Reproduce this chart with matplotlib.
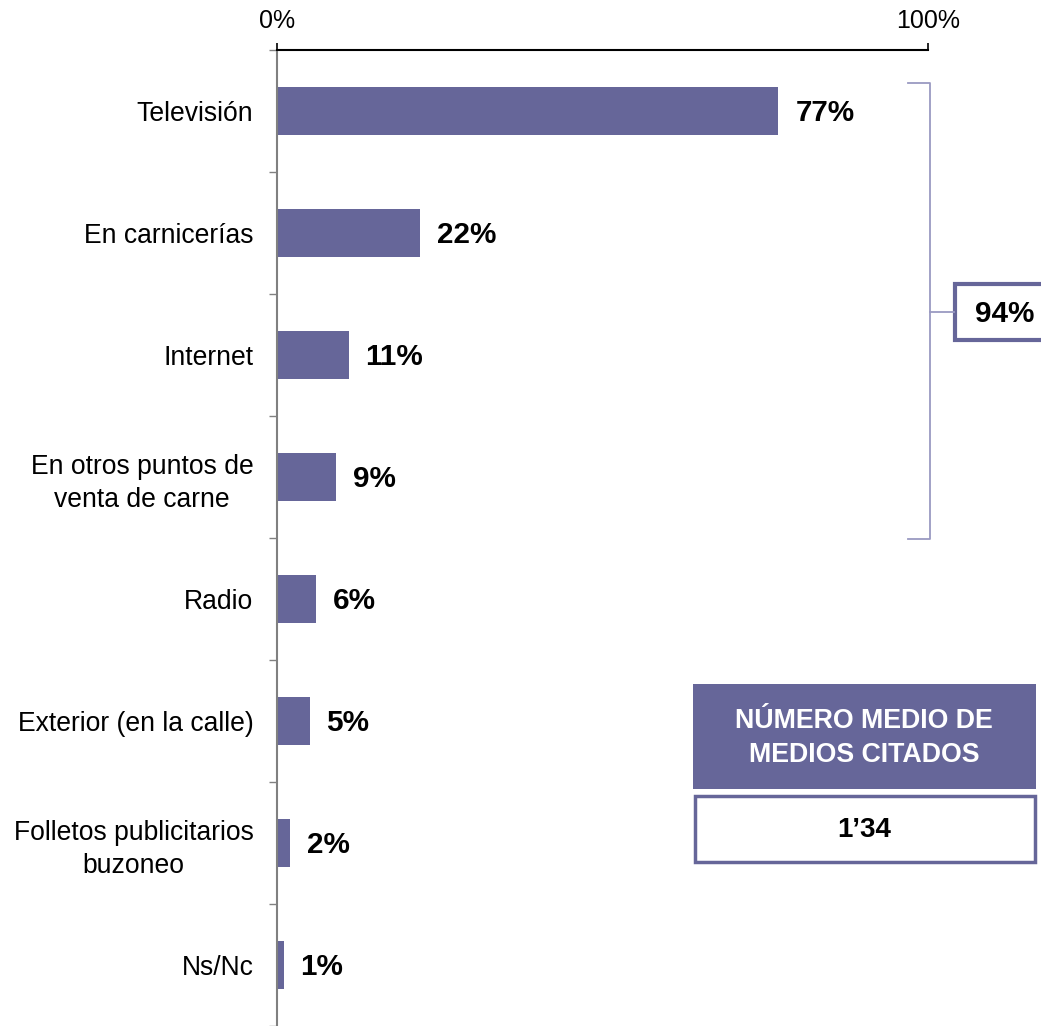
import matplotlib.pyplot as plt
from matplotlib.patches import Rectangle

plt.rcParams['font.family'] = ['Liberation Sans', 'DejaVu Sans']

categories = ['Televisión', 'En carnicerías', 'Internet', 'En otros puntos de\nventa de carne',
              'Radio', 'Exterior (en la calle)', 'Folletos publicitarios\nbuzoneo', 'Ns/Nc']
values = [77, 22, 11, 9, 6, 5, 2, 1]
bracket_total = '94%'
avg_title = 'NÚMERO MEDIO DE\nMEDIOS CITADOS'
avg_value = '1’34'

W, H = 1041, 1026
purple = '#666699'
bracket_col = '#9a9ac2'

fig = plt.figure(figsize=(W / 100, H / 100), dpi=100)
ax = fig.add_axes([277 / W, 0, 651 / W, 976 / H])


def fx(x):
    return x / W


def fy(y):
    return 1 - y / H


ypos = list(range(len(categories)))
bars = ax.barh(ypos, values, height=0.4, color=purple)
ax.set_xlim(0, 100)
ax.set_ylim(len(categories) - 0.5, -0.5)

# value labels
for bar, v in zip(bars, values):
    ax.annotate(f'{v}%', (bar.get_width(), bar.get_y() + bar.get_height() / 2),
                xytext=(17, -2), textcoords='offset pixels', ha='left', va='center',
                fontsize=21.3, fontweight='bold', color='black')

# axes styling
ax.xaxis.tick_top()
ax.set_xticks([0, 100])
ax.set_xticklabels(['0%', '100%'], fontsize=18)
ax.tick_params(axis='x', length=5, width=1.2, pad=7, color='black')
ax.set_yticks(ypos)
ax.set_yticklabels(categories, fontsize=19.1)
ax.tick_params(axis='y', which='major', length=0, pad=17)
for lbl in ax.get_yticklabels():
    lbl.set_multialignment('center')
    lbl.set_linespacing(1.35)
ax.set_yticks([i - 0.5 for i in range(len(categories) + 1)], minor=True)
ax.tick_params(axis='y', which='minor', length=6, width=1, color='#808080')

for s in ['right', 'bottom']:
    ax.spines[s].set_visible(False)
ax.spines['left'].set_color('#808080')
ax.spines['left'].set_linewidth(1.5)
ax.spines['top'].set_color('black')
ax.spines['top'].set_linewidth(1.5)

# bracket grouping the first four media
bx = fx(930)
fig.add_artist(plt.Line2D([fx(908), bx, bx, fx(908)], [fy(83), fy(83), fy(539), fy(539)],
                          color=bracket_col, lw=1.3))
fig.add_artist(plt.Line2D([bx, fx(954)], [fy(312), fy(312)], color=bracket_col, lw=1.3))
fig.add_artist(Rectangle((fx(955), fy(340)), fx(100), 56 / H, facecolor='white',
                         edgecolor=purple, lw=3, transform=fig.transFigure))
fig.text(fx(1005), fy(314), bracket_total, ha='center', va='center',
         fontsize=21.3, fontweight='bold')

# average box
fig.add_artist(Rectangle((fx(693), fy(789)), (1036 - 693) / W, (789 - 684) / H,
                         facecolor=purple, edgecolor='none', transform=fig.transFigure))
fig.text(fx(864), fy(738), avg_title, ha='center', va='center', color='white',
         fontsize=19.3, fontweight='bold', linespacing=1.45)
fig.add_artist(Rectangle((fx(694.5), fy(862)), (1034.5 - 694.5) / W, (862 - 796) / H,
                         facecolor='white', edgecolor=purple, lw=2.5, transform=fig.transFigure))
fig.text(fx(864), fy(830), avg_value, ha='center', va='center',
         fontsize=20, fontweight='bold')

fig.savefig('out.png', dpi=100)
